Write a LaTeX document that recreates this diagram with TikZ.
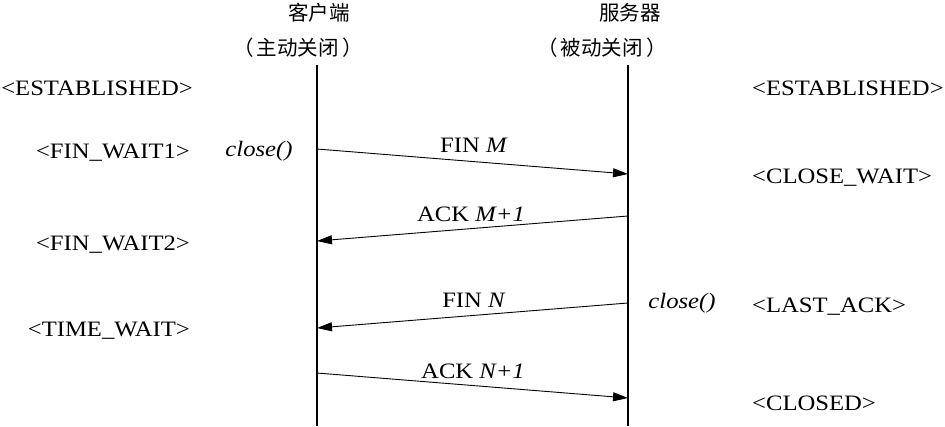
\documentclass[tikz,border=0pt]{standalone}
\usepackage{fontspec}
\setmainfont{Liberation Serif}[FakeStretch=1.12]
\newfontfamily\cjk{Noto Sans CJK SC}
\usetikzlibrary{arrows.meta}
\begin{document}
\begin{tikzpicture}[x=1pt,y=-1pt,
  txt/.style={inner sep=0pt,font=\fontsize{22}{24}\selectfont},
  cjktxt/.style={inner sep=0pt,font=\cjk\fontsize{20.5}{22}\selectfont},
  lstate/.style={txt,anchor=east},
  rstate/.style={txt,anchor=west},
  life/.style={line width=2.6pt},
  msg/.style={line width=0.9pt,-{Triangle[length=15pt,width=9pt]}}]
\useasboundingbox (0,0) rectangle (945,426);
% headers
\node[cjktxt] (ch) at (319,13) {客户端};
\node[cjktxt] (sh) at (630,13) {服务器};
\node[cjktxt] (cr) at (298,48) {（\,主动关闭\,）};
\node[cjktxt] (sr) at (602,48) {（\,被动关闭\,）};
% lifelines
\coordinate (ct) at (317,65);
\coordinate (cb) at (317,426);
\coordinate (st) at (628,65);
\coordinate (sb) at (628,426);
\draw[life] (ct) -- (cb);
\draw[life] (st) -- (sb);
% message endpoints
\coordinate (m1a) at (317,149); \coordinate (m1b) at (628,174);
\coordinate (m2a) at (628,216); \coordinate (m2b) at (317,241);
\coordinate (m3a) at (628,303); \coordinate (m3b) at (317,328);
\coordinate (m4a) at (317,373); \coordinate (m4b) at (628,398);
\draw[msg] (m1a) -- (m1b);
\draw[msg] (m2a) -- (m2b);
\draw[msg] (m3a) -- (m3b);
\draw[msg] (m4a) -- (m4b);
\node[txt] (l1) at (474,145) {FIN \textit{M}};
\node[txt] (l2) at (471,214) {ACK \textit{M+1}};
\node[txt] (l3) at (474,300) {FIN \textit{N}};
\node[txt] (l4) at (473,371) {ACK \textit{N+1}};
% states
\node[lstate] (e1) at (193,88) {<ESTABLISHED>};
\node[lstate] (fw1) at (190,153) {<FIN\_WAIT1>};
\node[lstate] (fw2) at (190,245) {<FIN\_WAIT2>};
\node[lstate] (tw) at (190,331) {<TIME\_WAIT>};
\node[rstate] (e2) at (752,88) {<ESTABLISHED>};
\node[rstate] (cw) at (752,178) {<CLOSE\_WAIT>};
\node[rstate] (la) at (752,307) {<LAST\_ACK>};
\node[rstate] (cl) at (752,403) {<CLOSED>};
\node[txt] (c1) at (259,151) {\textit{close()}};
\node[txt] (c2) at (682,303) {\textit{close()}};
\end{tikzpicture}
\end{document}
